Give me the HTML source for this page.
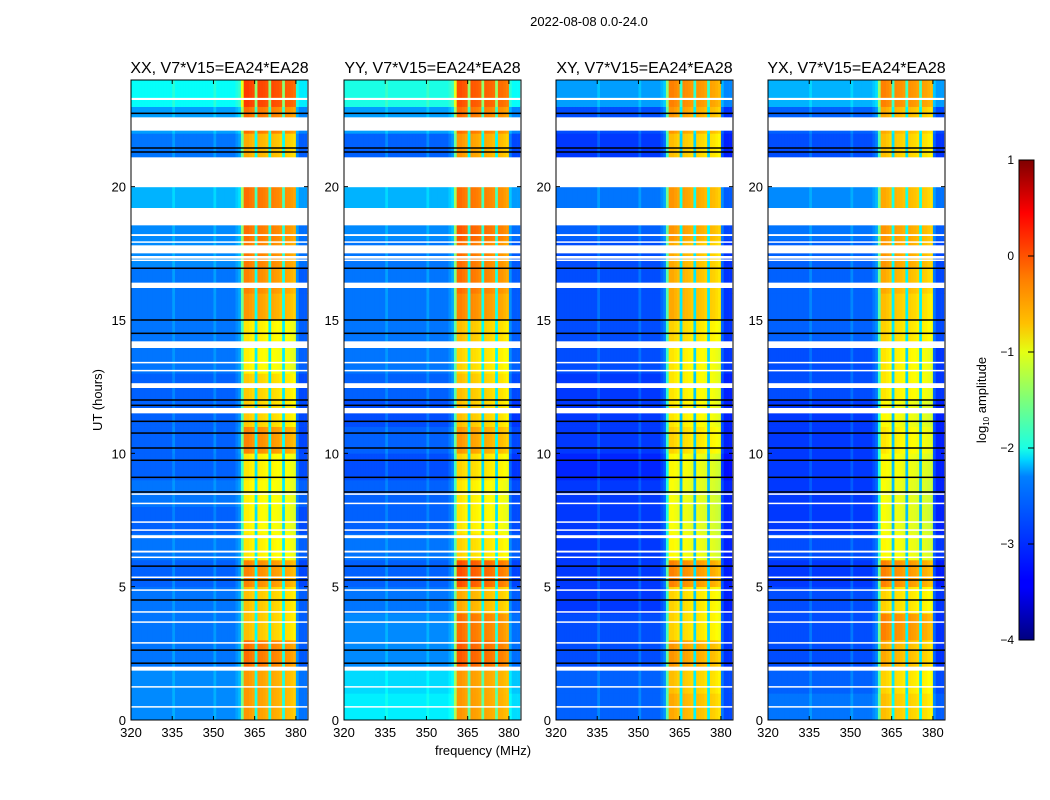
<!DOCTYPE html>
<html><head><meta charset="utf-8">
<style>
body{margin:0;background:#fff;font-family:"Liberation Sans",sans-serif;}
#wrap{position:relative;width:1050px;height:800px;overflow:hidden;}
text{font-family:"Liberation Sans",sans-serif;}
</style></head>
<body><div id="wrap">
<svg id="svg" width="1050" height="800" xmlns="http://www.w3.org/2000/svg">
<defs>
<linearGradient id="jet" x1="0" y1="1" x2="0" y2="0">
<stop offset="0" stop-color="#00007f"/><stop offset="0.11" stop-color="#0000ff"/>
<stop offset="0.125" stop-color="#0000ff"/><stop offset="0.34" stop-color="#0080ff"/>
<stop offset="0.375" stop-color="#00d4ff"/><stop offset="0.4" stop-color="#1affe4"/>
<stop offset="0.5" stop-color="#7dff7a"/><stop offset="0.6" stop-color="#e4ff13"/>
<stop offset="0.66" stop-color="#ffc000"/><stop offset="0.75" stop-color="#ff8000"/>
<stop offset="0.89" stop-color="#ff0000"/><stop offset="1" stop-color="#7f0000"/>
</linearGradient>
</defs>
<text x="589" y="26" font-size="13" text-anchor="middle">2022-08-08 0.0-24.0</text>
<text x="483" y="755" font-size="13" text-anchor="middle">frequency (MHz)</text>
<text transform="translate(102,400) rotate(-90)" font-size="13" text-anchor="middle">UT (hours)</text>
<g id="panels"></g>
<g>
<rect x="1019" y="160" width="15" height="480" fill="url(#jet)" stroke="#000" stroke-width="1"/>
<text transform="translate(986,400) rotate(-90)" font-size="13" text-anchor="middle">log<tspan font-size="8" dy="3">10</tspan><tspan dy="-3"> amplitude</tspan></text>
<g id="cbticks"></g>
</g>
</svg>
</div>
<script>
const panelNames=["XX, V7*V15=EA24*EA28","YY, V7*V15=EA24*EA28","XY, V7*V15=EA24*EA28","YX, V7*V15=EA24*EA28"];
const panelLeft=[131,344,556,768];
const xTicks=[320,335,350,365,380];
const yTicks=[0,5,10,15,20];
const cbTicks=[1,0,-1,-2,-3,-4];
// hourly band level (log10 amp), index = hour
const bandXX=[-0.35,-0.35,-0.15,-0.55,-0.55,-0.25,-0.75,-0.8,-0.8,-0.75,-0.25,-0.6,-0.6,-0.8,-0.75,-0.35,-0.25,-0.2,-0.15,-0.15,-0.15,-0.45,-0.15,0.1];
const bandYY=[-0.35,-0.35,-0.05,-0.15,-0.45,0.0,-0.65,-0.75,-0.75,-0.65,-0.35,-0.55,-0.55,-0.65,-0.55,-0.25,-0.15,-0.15,-0.05,-0.15,-0.15,-0.35,-0.15,0.0];
const bandXY=[-0.45,-0.55,-0.35,-0.65,-0.65,-0.25,-0.85,-0.9,-0.9,-0.85,-0.65,-0.75,-0.75,-0.75,-0.65,-0.45,-0.45,-0.45,-0.35,-0.35,-0.45,-0.55,-0.35,-0.25];
const bandYX=[-0.55,-0.65,-0.45,-0.25,-0.65,-0.25,-0.85,-0.9,-0.9,-0.85,-0.75,-0.85,-0.75,-0.75,-0.65,-0.55,-0.45,-0.35,-0.35,-0.45,-0.45,-0.55,-0.45,-0.25];
// hourly background level
const bgXX=[-2.7,-2.7,-2.8,-2.8,-2.8,-2.9,-2.8,-2.9,-2.8,-2.9,-2.9,-2.9,-2.9,-2.8,-2.8,-2.8,-2.8,-2.7,-2.7,-2.5,-2.4,-2.8,-2.6,-2.1];
const bgYY=[-2.2,-2.3,-2.7,-2.7,-2.8,-2.9,-2.8,-2.9,-2.9,-3.0,-2.9,-3.0,-2.9,-2.8,-2.8,-2.8,-2.8,-2.8,-2.7,-2.5,-2.4,-2.9,-2.6,-2.0];
const bgXY=[-2.9,-2.9,-3.0,-3.0,-3.1,-3.1,-3.1,-3.1,-3.1,-3.2,-3.1,-3.1,-3.1,-3.0,-3.0,-3.0,-3.0,-3.0,-2.9,-2.8,-2.7,-3.1,-3.0,-2.6];
const bgYX=[-2.8,-2.9,-3.0,-3.0,-3.0,-3.1,-3.0,-3.1,-3.1,-3.1,-3.1,-3.1,-3.0,-3.0,-2.9,-2.9,-2.9,-2.9,-2.8,-2.7,-2.6,-3.0,-2.9,-2.5];
// per-MHz channel weight toward band level (320..383)
const chanMask=[0,0,0,0,0,0,0,0,0,0, 0,0,0,0,0,0.08,0,0,0,0, 0,0,0,0,0,0,0,0,0,0, 0.08,0,0,0,0,0,0,0,0.05,0.1,
 0.5,1.0,1.0,0.98,0.96,0.3,0.98,0.97,0.96,0.94, 0.3,0.96,0.95,0.94,0.92,0.3,0.93,0.92,0.9,0.88, 0.05,-0.05,-0.05,-0.05];
// flagged (white) intervals in hours
const flagStart=[23.25,22.1,19.98,18.55,17.5,17.3,16.2,13.95,12.45,11.5,6.82,6.28,1.85,18.15,17.9,17.22,13.38,13.08,8.45,8.1,7.4,7.1,6.08,5.33,4.85,4.03,3.65,2.87,1.22,0.47];
const flagEnd=[23.33,22.6,21.1,19.2,17.8,17.4,16.4,14.2,12.63,11.7,6.93,6.35,2.0,18.22,17.95,17.27,13.43,13.13,8.5,8.15,7.45,7.15,6.13,5.38,4.9,4.08,3.7,2.92,1.27,0.52];
// black (zero) rows in hours
const blackRows=[22.75,21.45,21.3,16.94,15.0,14.5,12.0,11.8,11.2,10.76,10.2,9.74,9.1,8.55,5.77,5.25,4.5,2.62,2.13];

const bands=[bandXX,bandYY,bandXY,bandYX];
const bgs=[bgXX,bgYY,bgXY,bgYX];
const NS="http://www.w3.org/2000/svg";
const PW=177, Y0=720, Y1=80, F0=320, F1=384.4;
function xs(left,f){return left+(f-F0)/(F1-F0)*PW;}
function ys(h){return Y0-h/24*(Y0-Y1);}
function jet(v){let t=(v+4)/5;t=Math.max(0,Math.min(1,t));
 const c=x=>Math.round(255*Math.max(0,Math.min(1,x)));
 return `rgb(${c(1.5-Math.abs(4*t-3))},${c(1.5-Math.abs(4*t-2))},${c(1.5-Math.abs(4*t-1))})`;}
function mk(tag,attrs,parent){const e=document.createElementNS(NS,tag);for(const k in attrs)e.setAttribute(k,attrs[k]);parent.appendChild(e);return e;}
const root=document.getElementById('panels');
panelNames.forEach((name,p)=>{
 const L=panelLeft[p];
 const g=mk('g',{},root);
 
 
 const band=bands[p],bg=bgs[p];
 for(let h=0;h<24;h++){
  for(let c=0;c<chanMask.length;c++){
   const m=chanMask[c];
   const v=bg[h]+(band[h]-bg[h])*m;
   const x0=xs(L,F0+c),x1=Math.min(xs(L,F0+c+1),L+PW);
   const r=mk('rect',{x:x0.toFixed(2),y:ys(h+1).toFixed(2),width:(x1-x0+0.3).toFixed(2),height:(ys(h)-ys(h+1)+0.3).toFixed(2),fill:jet(v)},g);
   
   
  }
 }
 flagStart.forEach((s,i)=>{
  const r=mk('rect',{x:L,y:ys(flagEnd[i]),width:PW,height:Math.max(1.5,ys(s)-ys(flagEnd[i])),fill:'#fff'},g);
  
  
 });
 blackRows.forEach(h=>{
  const r=mk('rect',{x:L,y:ys(h)-0.75,width:PW,height:1.5,fill:'#000'},g);
  
  
 });
 const fr=mk('rect',{x:L,y:Y1,width:PW,height:Y0-Y1,fill:'none',stroke:'#000','stroke-width':1},g);
 
 
 const t=mk('text',{x:L+PW/2,y:73,'font-size':16,'text-anchor':'middle'},g);t.textContent=name;
 
 
 xTicks.forEach(f=>{const x=xs(L,f);
  mk('line',{x1:x,x2:x,y1:Y0,y2:Y0-4,stroke:'#000'},g);mk('line',{x1:x,x2:x,y1:Y1,y2:Y1+4,stroke:'#000'},g);
  const tx=mk('text',{x:x,y:Y0+17,'font-size':13,'text-anchor':'middle'},g);tx.textContent=f;
  
  });
 yTicks.forEach(hh=>{const y=ys(hh);
  mk('line',{x1:L,x2:L+4,y1:y,y2:y,stroke:'#000'},g);mk('line',{x1:L+PW,x2:L+PW-4,y1:y,y2:y,stroke:'#000'},g);
  const ty=mk('text',{x:L-5,y:y+5,'font-size':13,'text-anchor':'end'},g);ty.textContent=hh;
  
  });
});
const cb=document.getElementById('cbticks');
cbTicks.forEach(v=>{const y=160+(1-v)/5*480;
 mk('line',{x1:1028,x2:1034,y1:y,y2:y,stroke:'#000'},cb);
 const t=mk('text',{x:1014,y:y+4,'font-size':12,'text-anchor':'end'},cb);t.textContent=v<0?'\u2212'+(-v):v;
 
 });
</script>
</body></html>
